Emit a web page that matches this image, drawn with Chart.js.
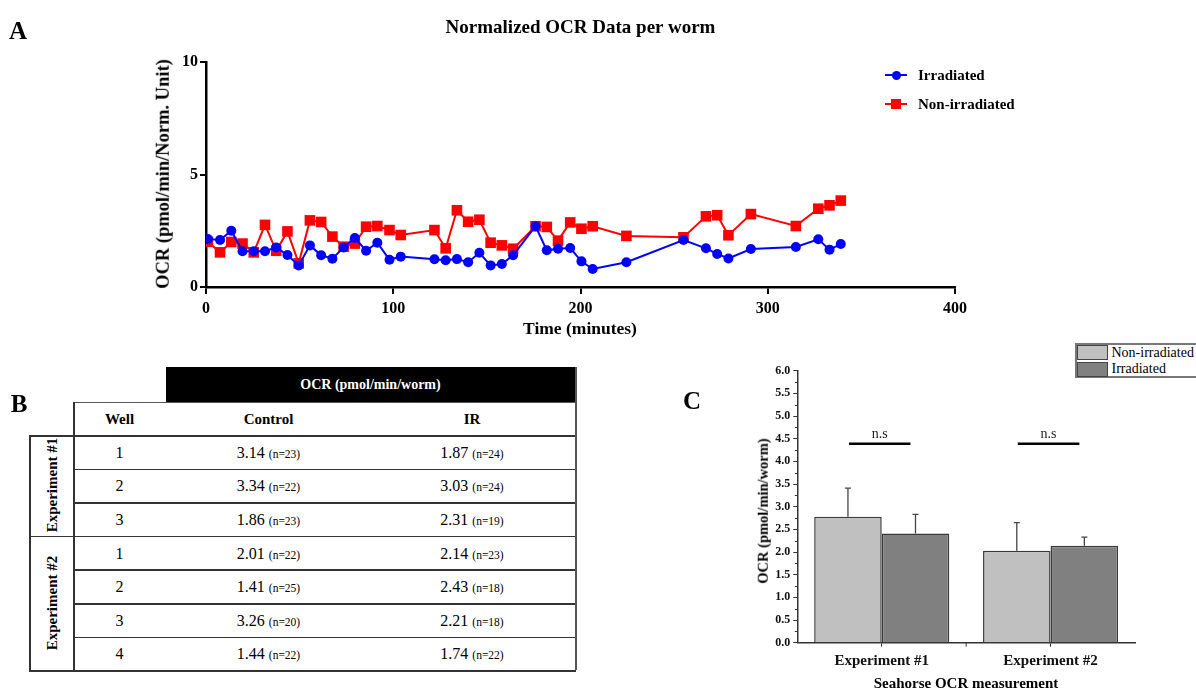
<!DOCTYPE html>
<html><head><meta charset="utf-8">
<script src="https://cdn.jsdelivr.net/npm/chart.js@4.4.1/dist/chart.umd.min.js"></script>
<style>
html,body{margin:0;padding:0;background:#fff;}
body{width:1196px;height:689px;position:relative;overflow:hidden;font-family:"Liberation Serif","Times New Roman",serif;color:#000;}
.t{position:absolute;white-space:nowrap;line-height:1;transform:translate(-50%,-50%);}
.rot{transform:translate(-50%,-50%) rotate(-90deg);}
canvas{position:absolute;}
</style></head><body>

<canvas id="chartA" width="1196" height="345" style="left:0;top:0;width:1196px;height:345px"></canvas>
<canvas id="chartC" width="516" height="354" style="left:680px;top:335px;width:516px;height:354px"></canvas>
<div id="overlay"></div>

<script>
// ---------- Panel A data ----------
const timeMinutes = [1,7.5,13.5,19.5,25.5,31.5,37.5,43.5,49.5,55.5,61.5,67.5,73.5,79.5,85.5,91.5,98,104,122,128,134,140,146,152,158,164,176,182,188,194.5,200.5,206.5,224.5,255,267,273,279,291,315,327,333,339];
const irradiatedOCR = [2.13,2.09,2.5,1.59,1.59,1.59,1.76,1.42,0.96,1.85,1.41,1.26,1.76,2.18,1.61,1.97,1.21,1.35,1.23,1.19,1.24,1.1,1.52,0.96,1.02,1.41,2.7,1.63,1.7,1.73,1.14,0.8,1.1,2.09,1.72,1.47,1.27,1.69,1.78,2.12,1.66,1.91];
const nonIrradiatedOCR = [2.01,1.54,2.0,1.93,1.54,2.76,1.61,2.47,1.05,2.96,2.89,2.24,1.79,1.93,2.68,2.71,2.53,2.31,2.53,1.72,3.41,2.9,2.99,1.97,1.85,1.7,2.7,2.67,2.06,2.87,2.59,2.7,2.27,2.21,3.14,3.19,2.3,3.24,2.71,3.48,3.63,3.84];
const seriesNamesA = ["Irradiated","Non-irradiated"];

// ---------- Panel B data ----------
const tableExperiments = ["Experiment #1","Experiment #2"];
const tableWells = [[1,2,3],[1,2,3,4]];
const controlValues = [[3.14,3.34,1.86],[2.01,1.41,3.26,1.44]];
const controlN = [[23,22,23],[22,25,20,22]];
const irValues = [[1.87,3.03,2.31],[2.14,2.43,2.21,1.74]];
const irN = [[24,24,19],[23,18,18,22]];
const tableHeaders = ["Well","Control","IR"];

// ---------- Panel C data ----------
const barCategories = ["Experiment #1","Experiment #2"];
const barSeriesNames = ["Non-irradiated","Irradiated"];
const nonIrradiatedMean = [2.78,2.03];
const irradiatedMean = [2.41,2.14];
const nonIrradiatedErr = [0.63,0.62];
const irradiatedErr = [0.42,0.19];
const nsLevel = [4.39,4.39];
const nsLabel = "n.s";

const SERIF = '"Liberation Serif","Times New Roman",serif';
const ov = document.getElementById('overlay');
function txt(s, x, y, css, cls){
  const d=document.createElement('div'); d.className='t '+(cls||''); d.textContent=s;
  d.style.left=x+'px'; d.style.top=y+'px'; d.style.cssText+=';'+(css||''); ov.appendChild(d); return d;
}
function box(x,y,w,h,css){
  const d=document.createElement('div'); d.style.cssText='position:absolute;left:'+x+'px;top:'+y+'px;width:'+w+'px;height:'+h+'px;'+(css||''); ov.appendChild(d); return d;
}

// ---------- Panel A ----------
const pointsIr = timeMinutes.map((t,i)=>({x:t,y:irradiatedOCR[i]}));
const pointsNon = timeMinutes.map((t,i)=>({x:t,y:nonIrradiatedOCR[i]}));
new Chart(document.getElementById('chartA'), {
  type:'scatter',
  data:{datasets:[
    {label:seriesNamesA[0], data:pointsIr, showLine:true, borderColor:'#0000ff', backgroundColor:'#0000ff', borderWidth:2, pointStyle:'circle', pointRadius:5, pointBorderWidth:0, order:0},
    {label:seriesNamesA[1], data:pointsNon, showLine:true, borderColor:'#ff0000', backgroundColor:'#ff0000', borderWidth:2, pointStyle:'rect', pointRadius:7.5, pointBorderWidth:0, order:1}
  ]},
  options:{
    responsive:false, animation:false, devicePixelRatio:1,
    plugins:{legend:{display:false}, tooltip:{enabled:false}},
    layout:{padding:{top:62,right:241,left:0,bottom:0}},
    scales:{
      x:{type:'linear', min:0, max:400,
         ticks:{stepSize:100, color:'#000', padding:5, font:{family:SERIF,size:16,weight:'bold'}},
         grid:{display:true, drawOnChartArea:false, drawTicks:true, tickLength:7, color:'#000', lineWidth:2},
         border:{display:true, color:'#000', width:2.5},
         afterFit(s){ s.height=58; }},
      y:{type:'linear', min:0, max:10,
         ticks:{stepSize:5, color:'#000', padding:2, font:{family:SERIF,size:16,weight:'bold'}},
         grid:{display:true, drawOnChartArea:false, drawTicks:true, tickLength:6, color:'#000', lineWidth:2},
         border:{display:true, color:'#000', width:2.5},
         afterFit(s){ s.width=206; }}
    }
  }
});
txt('A',18,30,'font-size:25px;font-weight:bold');
txt('Normalized OCR Data per worm',580.5,26,'font-size:19px;font-weight:bold');
txt('OCR (pmol/min/Norm. Unit)',163,174,'font-size:18.5px;font-weight:bold','rot');
txt('Time (minutes)',580,329,'font-size:17.5px;font-weight:bold');
// legend A
box(885,74,22,2,'background:#0000ff');
box(891.5,70.5,9,9,'background:#0000ff;border-radius:50%');
txt(seriesNamesA[0],918,75,'font-size:15px;font-weight:bold;transform:translate(0,-50%)');
box(885,103,22,2,'background:#ff0000');
box(891,98.5,10,10,'background:#ff0000');
txt(seriesNamesA[1],918,104,'font-size:15px;font-weight:bold;transform:translate(0,-50%)');

// ---------- Panel B (table) ----------
txt('B',19,403,'font-size:25px;font-weight:bold');
const LC='#333';
const xOuter=29, xWell=73.3, xRight=575.3, yHead=367.3, yTop=401.7, yRow0=435, rowH=33.6;
const colCenters=[119.5,268.5,472];
box(165.7,yHead,xRight-165.7+1,yTop-yHead,'background:#000');
txt('OCR (pmol/min/worm)',(165.7+xRight)/2,(yHead+yTop)/2,'font-size:14px;font-weight:bold;color:#fff');
box(xWell,yTop,xRight-xWell+1,1.5,'background:#555');
tableHeaders.forEach((h,i)=>txt(h,colCenters[i],(yTop+yRow0)/2+1,'font-size:15px;font-weight:bold'));
let r=0;
tableExperiments.forEach((ex,g)=>{
  const start=yRow0+r*rowH;
  tableWells[g].forEach((w,k)=>{
    const y0=yRow0+r*rowH;
    const isGroupTop=(k===0);
    box(isGroupTop?xOuter:xWell, y0, xRight-(isGroupTop?xOuter:xWell)+1, 1.5, 'background:'+LC);
    const cy=y0+rowH/2+1;
    txt(String(w),colCenters[0],cy,'font-size:16px');
    const c=txt('',colCenters[1],cy,'font-size:16px');
    c.innerHTML=controlValues[g][k].toFixed(2)+' <span style="font-size:11.5px">(n='+controlN[g][k]+')</span>';
    const d=txt('',colCenters[2],cy,'font-size:16px');
    d.innerHTML=irValues[g][k].toFixed(2)+' <span style="font-size:11.5px">(n='+irN[g][k]+')</span>';
    r++;
  });
  const end=yRow0+r*rowH;
  txt(ex,51.7,(start+end)/2,'font-size:15px;font-weight:bold','rot');
});
const yBottom=yRow0+r*rowH;
box(xOuter,yBottom,xRight-xOuter+1,1.5,'background:'+LC);
box(xOuter,yRow0,1.5,yBottom-yRow0,'background:'+LC);
box(xWell,yTop,1.5,yBottom-yTop,'background:'+LC);
box(xRight,yHead,1.5,yBottom-yHead,'background:#555');

// ---------- Panel C ----------
const errPlugin={
  id:'errbars',
  afterDatasetsDraw(chart){
    const ctx=chart.ctx, ys=chart.scales.y, xs=chart.scales.x;
    const means=[nonIrradiatedMean,irradiatedMean], errs=[nonIrradiatedErr,irradiatedErr];
    ctx.save();
    ctx.strokeStyle='#444'; ctx.lineWidth=1.3;
    means.forEach((m,di)=>{
      const meta=chart.getDatasetMeta(di);
      meta.data.forEach((bar,i)=>{
        const yt=ys.getPixelForValue(m[i]+errs[di][i]);
        ctx.beginPath(); ctx.moveTo(bar.x,bar.y); ctx.lineTo(bar.x,yt);
        ctx.moveTo(bar.x-3,yt); ctx.lineTo(bar.x+3,yt); ctx.stroke();
      });
    });
    const m0=chart.getDatasetMeta(0), m1=chart.getDatasetMeta(1);
    ctx.strokeStyle='#000'; ctx.lineWidth=2.5; ctx.fillStyle='#222';
    ctx.font='14px '+SERIF; ctx.textAlign='center'; ctx.textBaseline='alphabetic';
    barCategories.forEach((c,i)=>{
      const x0=m0.data[i].x+1, x1=m1.data[i].x-5;
      const y=ys.getPixelForValue(nsLevel[i]);
      ctx.beginPath(); ctx.moveTo(x0,y); ctx.lineTo(x1,y); ctx.stroke();
      ctx.fillText(nsLabel,(x0+x1)/2,y-6);
    });
    ctx.strokeStyle='#333'; ctx.lineWidth=1;
    for(let v=0.25; v<6; v+=0.5){
      const y=Math.round(ys.getPixelForValue(v))+0.5;
      ctx.beginPath(); ctx.moveTo(ys.right-2.5,y); ctx.lineTo(ys.right,y); ctx.stroke();
    }
    const xb=(xs.left+xs.right)/2;
    ctx.beginPath(); ctx.moveTo(xb,xs.top); ctx.lineTo(xb,xs.top+4); ctx.stroke();
    ctx.restore();
  }
};
new Chart(document.getElementById('chartC'), {
  type:'bar',
  data:{labels:barCategories, datasets:[
    {label:barSeriesNames[0], data:nonIrradiatedMean, backgroundColor:'#c0c0c0', borderColor:'#3a3a3a', borderWidth:1.5, categoryPercentage:0.8, barPercentage:1.0},
    {label:barSeriesNames[1], data:irradiatedMean, backgroundColor:'#808080', borderColor:'#3a3a3a', borderWidth:1.5, categoryPercentage:0.8, barPercentage:1.0}
  ]},
  options:{
    responsive:false, animation:false, devicePixelRatio:1,
    plugins:{legend:{display:false}, tooltip:{enabled:false}},
    layout:{padding:{top:35.7,right:61,left:0,bottom:0}},
    scales:{
      x:{ticks:{color:'#111', padding:5, font:{family:SERIF,size:15,weight:'bold'}},
         grid:{display:true, offset:false, drawOnChartArea:false, drawTicks:true, tickLength:4, color:'#333', lineWidth:1},
         border:{display:true, color:'#333', width:1.5},
         afterFit(s){ s.height=46.3; }},
      y:{min:0, max:6,
         ticks:{stepSize:0.5, color:'#111', padding:3, font:{family:SERIF,size:12,weight:'bold'}, callback:(v)=>Number(v).toFixed(1)},
         grid:{display:true, drawOnChartArea:false, drawTicks:true, tickLength:4, color:'#333', lineWidth:1},
         border:{display:true, color:'#333', width:1.5},
         afterFit(s){ s.width=117.3; }}
    }
  },
  plugins:[errPlugin]
});
txt('C',692,400,'font-size:25px;font-weight:bold');
txt('OCR (pmol/min/worm)',763,511,'font-size:14.5px;font-weight:bold','rot');
txt('Seahorse OCR measurement',966,683,'font-size:15px;font-weight:bold');
// legend C
box(1075,343,140,35,'border:2px solid #777;box-sizing:border-box;background:#fff');
box(1077,345,31,15,'background:#c0c0c0;border:1.5px solid #444;box-sizing:border-box');
box(1077,361.5,31,15,'background:#808080;border:1.5px solid #444;box-sizing:border-box');
txt(barSeriesNames[0],1111.5,352.5,'font-size:14px;transform:translate(0,-50%)');
txt(barSeriesNames[1],1111.5,369,'font-size:14px;transform:translate(0,-50%)');
</script>
</body></html>
